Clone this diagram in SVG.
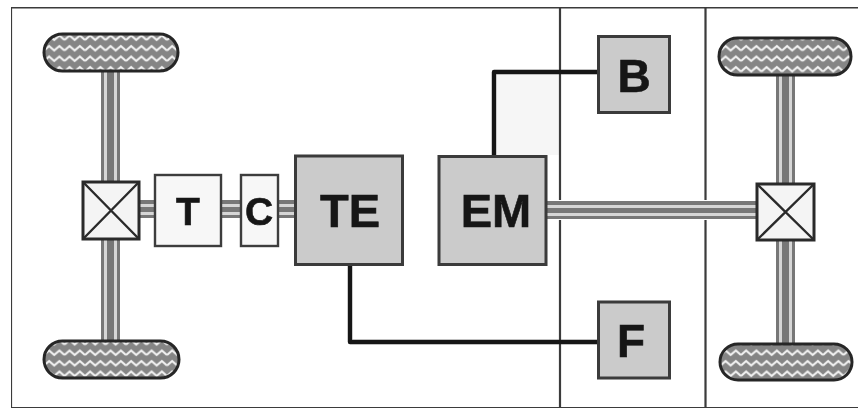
<svg xmlns="http://www.w3.org/2000/svg" width="858" height="412" viewBox="0 0 858 412">
<style>
.frame{fill:none;stroke:#3a3a3a;stroke-width:2.2}
.gray{fill:#cbcbcb;stroke:#3a3a3a;stroke-width:3}
.light{fill:#f7f7f7;stroke:#3c3c3c;stroke-width:2.4}
.diff{fill:#f4f4f4;stroke:#2a2a2a;stroke-width:3}
.x{stroke:#2a2a2a;stroke-width:2.4;fill:none}
.wheel{fill:url(#tread);stroke:#262626;stroke-width:3}
.link{fill:none;stroke:#161616;stroke-width:4.400;stroke-linejoin:round}
.so{fill:#777}
.si{fill:#d6d6d6}
text{font-family:"Liberation Sans",Arial,sans-serif;font-weight:700;fill:#161616;stroke:#161616;stroke-width:.6;text-anchor:middle}
</style>
<defs>
<pattern id="tread" width="20.500" height="10.500" patternUnits="userSpaceOnUse" x="3" y="1">
<rect width="20.500" height="10.500" fill="#858585"/>
<path d="M0 7.500L5.100 3L10.200 7.500L15.400 3L20.500 7.500" fill="none" stroke="#f4f4f4" stroke-width="2"/>
</pattern>
<filter id="soft" x="0" y="0" width="100%" height="100%"><feGaussianBlur stdDeviation="0.7"/></filter>
</defs>
<rect width="858" height="412" fill="#fff"/>
<g filter="url(#soft)">
<rect x="497" y="74" width="62" height="81" fill="#f6f6f6"/>
<g id="frame">
<path class="frame" d="M858 7.500H11V408H858"/>
<path class="frame" d="M560 7.500V200M560 220V408M705.500 7.500V200M705.500 220V408"/>
</g>
<g id="connectors">
<g id="shaft-left">
<rect class="so" x="101" y="72" width="19" height="109"/><rect class="si" x="104" y="72" width="3" height="109"/><rect class="si" x="114" y="72" width="3" height="109"/>
<rect class="so" x="101" y="239" width="19" height="102"/><rect class="si" x="104" y="239" width="3" height="102"/><rect class="si" x="114" y="239" width="3" height="102"/>
</g>
<g id="shaft-right">
<rect class="so" x="776" y="75" width="19" height="108"/><rect class="si" x="779" y="75" width="3" height="108"/><rect class="si" x="789" y="75" width="3" height="108"/>
<rect class="so" x="776" y="240" width="19" height="104"/><rect class="si" x="779" y="240" width="3" height="104"/><rect class="si" x="789" y="240" width="3" height="104"/>
</g>
<g id="shaft-horizontal">
<rect class="so" x="139" y="200" width="16" height="18"/><rect class="si" x="139" y="204" width="16" height="3"/><rect class="si" x="139" y="212" width="16" height="3"/>
<rect class="so" x="221" y="200" width="19" height="18"/><rect class="si" x="221" y="204" width="19" height="3"/><rect class="si" x="221" y="212" width="19" height="3"/>
<rect class="so" x="278" y="200" width="17" height="18"/><rect class="si" x="278" y="204" width="17" height="3"/><rect class="si" x="278" y="212" width="17" height="3"/>
<rect class="so" x="546" y="201" width="210" height="18"/><rect class="si" x="546" y="205" width="210" height="3"/><rect class="si" x="546" y="213" width="210" height="3"/>
</g>
<path class="link" d="M494 156V72H598"/>
<path class="link" d="M350 265V342H598"/>
</g>
<g id="wheel-tl"><rect class="wheel" x="44" y="34" width="134" height="37" rx="18.500"/></g>
<g id="wheel-bl"><rect class="wheel" x="44" y="341" width="135" height="37" rx="18.500"/></g>
<g id="wheel-tr"><rect class="wheel" x="719" y="38" width="132" height="37" rx="18.500"/></g>
<g id="wheel-br"><rect class="wheel" x="720" y="344" width="132" height="36" rx="18"/></g>
<g id="diff-left"><rect class="diff" x="83" y="182" width="56" height="57"/><path class="x" d="M83 182L139 239M139 182L83 239"/></g>
<g id="diff-right"><rect class="diff" x="757" y="184" width="57" height="56"/><path class="x" d="M757 184L814 240M814 184L757 240"/></g>
<g id="node-t"><rect class="light" x="155" y="175" width="66" height="71"/><text x="188" y="225" font-size="39">T</text></g>
<g id="node-c"><rect class="light" x="241" y="175" width="37" height="71"/><text x="259" y="225" font-size="39">C</text></g>
<g id="node-te"><rect class="gray" x="295.500" y="156" width="107" height="108.500"/><text x="350" y="227" font-size="47">TE</text></g>
<g id="node-em"><rect class="gray" x="439" y="156.500" width="107" height="108"/><text x="496" y="227" font-size="47">EM</text></g>
<g id="node-b"><rect class="gray" x="598.500" y="36.500" width="71" height="76"/><text x="634" y="92" font-size="46">B</text></g>
<g id="node-f"><rect class="gray" x="598.500" y="302" width="71" height="76"/><text x="631" y="357" font-size="46">F</text></g>
</g>
</svg>
